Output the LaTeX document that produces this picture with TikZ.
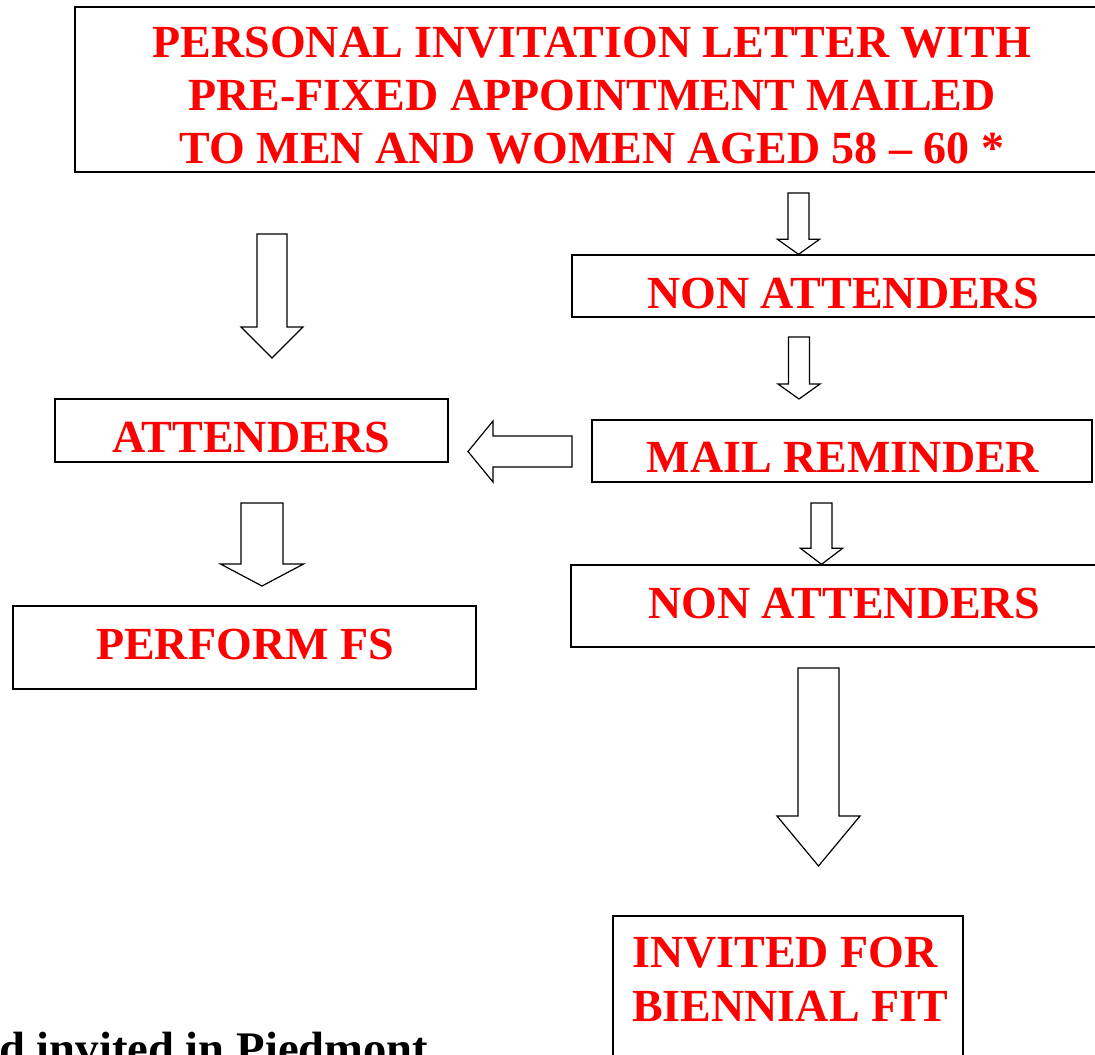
\documentclass[tikz,border=0pt]{standalone}
\usepackage{fontspec}
\setmainfont{Liberation Serif}
\usetikzlibrary{calc, fit}
\definecolor{flowred}{RGB}{255, 0, 0}

% hollow block arrow pointing down: start, tip, half shaft, half head, head length (px)
\newcommand{\arrowdown}[5]{%
  \draw[hollow] let \p1=(#1), \p2=(#2) in
    (\x1-#3*0.75pt,\y1) -- (\x1+#3*0.75pt,\y1) -- (\x1+#3*0.75pt,\y2+#5*0.75pt)
    -- (\x1+#4*0.75pt,\y2+#5*0.75pt) -- (\x2,\y2) -- (\x1-#4*0.75pt,\y2+#5*0.75pt)
    -- (\x1-#3*0.75pt,\y2+#5*0.75pt) -- cycle;}
% hollow block arrow pointing left
\newcommand{\arrowleft}[5]{%
  \draw[hollow] let \p1=(#1), \p2=(#2) in
    (\x1,\y1+#3*0.75pt) -- (\x1,\y1-#3*0.75pt) -- (\x2+#5*0.75pt,\y1-#3*0.75pt)
    -- (\x2+#5*0.75pt,\y1-#4*0.75pt) -- (\x2,\y2) -- (\x2+#5*0.75pt,\y1+#4*0.75pt)
    -- (\x2+#5*0.75pt,\y1+#3*0.75pt) -- cycle;}

\begin{document}
\begin{tikzpicture}[
    x=0.75pt, y=-0.75pt,
    box/.style={draw, line width=1pt, inner sep=0pt},
    redtxt/.style={text=flowred, inner sep=0pt, font=\bfseries\fontsize{34.5}{39.75}\selectfont},
    hollow/.style={draw, line width=0.9pt, fill=white, line join=miter},
    foot/.style={text=black, inner sep=0pt, font=\bfseries\fontsize{35}{42}\selectfont},
]
\useasboundingbox (0,0) rectangle (1095,1054);
\clip (0,0) rectangle (1095,1054);

% --- Boxes ---
\node[box, fit={(75,7) (1110,172)}] (letter) {};
\node[box, fit={(572,255) (1110,317)}] (nonatt1) {};
\node[box, fit={(592,420) (1092,482)}] (remind) {};
\node[box, fit={(571,565) (1110,647)}] (nonatt2) {};
\node[box, fit={(55,399) (448,462)}] (attend) {};
\node[box, fit={(13,606) (476,689)}] (perform) {};
\node[box, fit={(613,916) (963,1070)}] (invited) {};

% --- Texts ---
\node[redtxt, align=center] (tletter) at (592,95.5)
  {PERSONAL INVITATION LETTER WITH\\PRE-FIXED APPOINTMENT MAILED\\TO MEN AND WOMEN AGED 58 -- 60 *};
\node[redtxt, anchor=base] (tnonatt1) at (843,308) {NON ATTENDERS};
\node[redtxt, anchor=base] (tremind) at (843,472) {MAIL REMINDER};
\node[redtxt, anchor=base] (tnonatt2) at (844,618) {NON ATTENDERS};
\node[redtxt, anchor=base] (tattend) at (251,452) {ATTENDERS};
\node[redtxt, anchor=base] (tperform) at (245,659) {PERFORM FS};
\node[redtxt, align=left, anchor=west, font=\bfseries\fontsize{34.5}{40.5}\selectfont] (tinvited) at (632,979.5)
  {INVITED FOR\\BIENNIAL FIT};
\node[foot, anchor=base west] (footnote) at (-1,1064) {d invited in Piedmont};

% --- Block arrows ---
\coordinate (a1s) at (798.5,193);
\arrowdown{a1s}{a1s |- nonatt1.north}{10.5}{21}{15}
\coordinate (a2s) at (799,337);
\coordinate (a2t) at (799,399);
\arrowdown{a2s}{a2t}{10.5}{21}{15}
\coordinate (a3s) at (821.5,503);
\arrowdown{a3s}{a3s |- nonatt2.north}{10.5}{21}{16}
\coordinate (a4s) at (818.5,668);
\coordinate (a4t) at (818.5,866);
\arrowdown{a4s}{a4t}{20.5}{41.5}{50}
\coordinate (a5s) at (272,234);
\coordinate (a5t) at (272,358);
\arrowdown{a5s}{a5t}{15}{31}{31}
\coordinate (a6s) at (262,503);
\coordinate (a6t) at (262,586);
\arrowdown{a6s}{a6t}{21}{41.5}{22}
\coordinate (a7s) at (572,451.5);
\coordinate (a7t) at (468,451.5);
\arrowleft{a7s}{a7t}{15.5}{30.5}{25}

\end{tikzpicture}
\end{document}
